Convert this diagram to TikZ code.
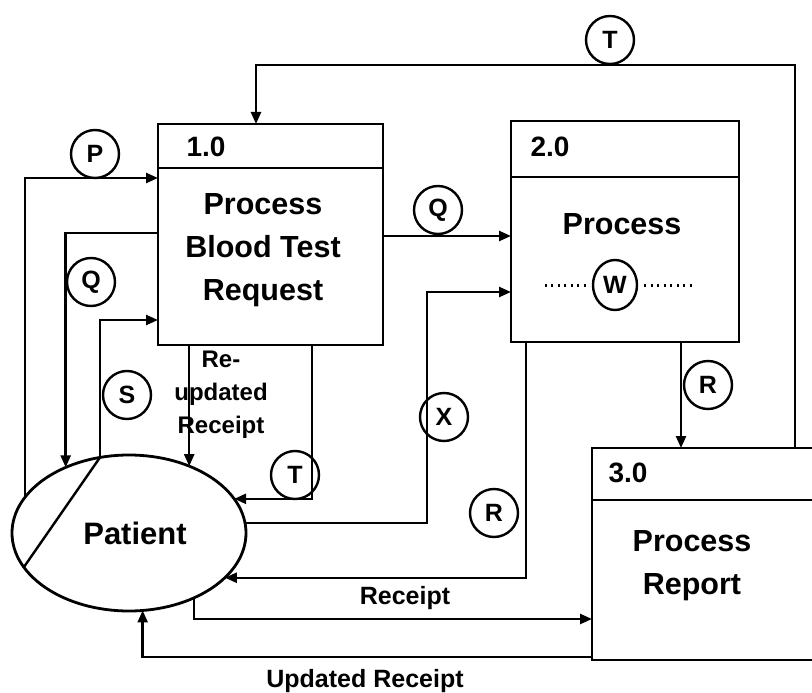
\documentclass[tikz,border=0pt]{standalone}
\usepackage{fontspec}
\setmainfont{Liberation Sans}
\usetikzlibrary{arrows.meta,shapes.geometric}
\begin{document}
\begin{tikzpicture}[x=1pt,y=-1pt,
  proc/.style={draw, line width=2.8pt, inner sep=0pt, outer sep=0pt},
  flow/.style={line width=2.4pt, -{Triangle[length=12pt,width=10pt]}},
  tag/.style={draw, circle, line width=2.4pt, minimum size=48pt, inner sep=0pt, font=\bfseries\fontsize{25}{25}\selectfont},
  boxtxt/.style={align=center, font=\bfseries\fontsize{30.5}{43}\selectfont},
  numtxt/.style={anchor=west, font=\bfseries\fontsize{28}{28}\selectfont},
  lbl/.style={align=center, font=\bfseries\fontsize{24}{33}\selectfont}]
\useasboundingbox (0,0) rectangle (812,693);
\fill[white] (0,0) rectangle (812,693);
\clip (0,0) rectangle (812,693);

% processes
\node[proc, minimum width=225pt, minimum height=221pt] (b1) at (270.5,234.5) {};
\draw[line width=2.8pt] (b1.west |- 0,168) -- (b1.east |- 0,168);
\node[numtxt] (n1) at (183,147) {1.0};
\node[boxtxt] (t1) at (263,250) {Process\\Blood Test\\Request};

\node[proc, minimum width=228pt, minimum height=221pt] (b2) at (625,231.5) {};
\draw[line width=2.8pt] (b2.west |- 0,177) -- (b2.east |- 0,177);
\node[numtxt] (n2) at (527,147) {2.0};
\node[boxtxt] (t2) at (622,224) {Process};
\node[tag, minimum width=44pt, minimum height=50pt, ellipse] (w) at (615,285) {W};
\draw[line width=3pt, dash pattern=on 2pt off 4.5pt] (w.west) ++(-6,0) -- ++(-44,0);
\draw[line width=3pt, dash pattern=on 2pt off 4.5pt] (w.east) ++(6,0) -- ++(50,0);

\node[proc, minimum width=258pt, minimum height=212pt] (b3) at (721,554) {};
\draw[line width=2.8pt] (b3.west |- 0,500) -- (b3.east |- 0,500);
\node[numtxt] (n3) at (605,473) {3.0};
\node[boxtxt] (t3) at (692,566) {Process\\Report};

% external entity
\node[draw, ellipse, line width=2.8pt, minimum width=234pt, minimum height=156pt, inner sep=0pt, outer sep=0pt,
      font=\bfseries\fontsize{31}{31}\selectfont] (pat) at (129,533) {\hspace*{12pt}Patient};
\draw[line width=2.4pt] (pat.111) -- (pat.198);

% flows
\draw[flow] (pat.161) |- (b1.west |- 0,178);
\node[tag] (p) at (95,154) {P};

\draw[flow] (b1.west |- 0,233) -| (pat.134.4);
\node[tag] (q1) at (91,282) {Q};

\draw[flow] (pat.111) |- (b1.west |- 0,320);
\node[tag] (s) at (127,395) {S};

\draw[flow] (b1.south -| pat.48.8) -- (pat.48.8);
\node[lbl] (ru) at (221,395) {Re-\\updated\\Receipt};

\draw[flow] (b1.south -| 312,0) |- (pat.18.5);
\node[tag] (t2c) at (295,475) {T};

\coordinate (xc) at (427,292);
\draw[flow] (pat.5.4) -| (xc) -- (b2.west |- xc);
\node[tag] (x) at (444,417) {X};

\draw[flow] (b1.east |- 0,236) -- (b2.west |- 0,236);
\node[tag] (q2) at (438,210) {Q};

\draw[flow] (b2.south -| 526,0) |- (pat.-25.2);
\node[tag] (r1) at (494,513) {R};

\draw[flow] (b2.south -| 681,0) -- (b3.north -| 681,0);
\node[tag] (r2) at (708,385) {R};

\coordinate (tc) at (256,65);
\draw[flow] (b3.north -| 795,0) |- (tc) -- (b1.north -| tc);
\node[tag] (t1c) at (610,40) {T};

\draw[flow] (pat.-45.6) |- (b3.west |- 0,619);
\node[lbl, font=\bfseries\fontsize{25}{25}\selectfont] (rc) at (405,598) {Receipt};

\draw[flow] (b3.west |- 0,657) -| (pat.-80.5);
\node[lbl, font=\bfseries\fontsize{25}{25}\selectfont] (urc) at (365,681) {Updated Receipt};
\end{tikzpicture}
\end{document}
